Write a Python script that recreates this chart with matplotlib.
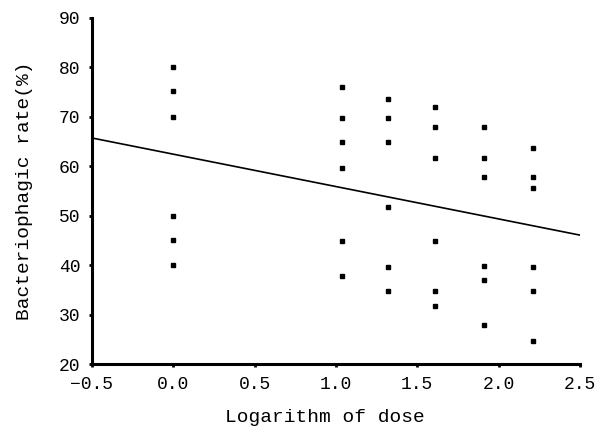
import numpy as np
import matplotlib
matplotlib.use("Agg")
import matplotlib.pyplot as plt

# ---------------- DATA ----------------
log_dose = [0.0, 1.04, 1.32, 1.61, 1.91, 2.21]
rates = [
    [80.0, 75.2, 70.0, 50.0, 45.1, 40.0],
    [76.0, 69.8, 64.9, 59.7, 44.9, 37.8],
    [73.6, 69.8, 64.9, 51.7, 39.7, 34.8],
    [71.9, 68.0, 61.7, 44.8, 34.8, 31.7],
    [68.0, 61.7, 57.8, 39.8, 36.9, 27.9],
    [63.6, 57.8, 55.7, 39.7, 34.8, 24.7],
]
fit_intercept = 62.45
fit_slope = -6.55

xticks = [-0.5, 0.0, 0.5, 1.0, 1.5, 2.0, 2.5]
yticks = [20, 30, 40, 50, 60, 70, 80, 90]

# ---------------- PLOT ----------------
plt.rcParams["font.family"] = ["Liberation Mono", "DejaVu Sans Mono"]

fig = plt.figure(figsize=(6.06, 4.40), dpi=100)
ax = fig.add_axes([0.1518, 0.1727, 0.8052, 0.7864])

for x, ys in zip(log_dose, rates):
    ax.plot([x] * len(ys), ys, "s", color="black", markersize=3.4,
            linestyle="none")

line_x = np.array([xticks[0], xticks[-1]])
ax.plot(line_x, fit_intercept + fit_slope * line_x, color="black",
        linewidth=1.2)

ax.set_xlim(-0.5, 2.5)
ax.set_ylim(20, 90)
ax.set_xticks(xticks)
ax.set_yticks(yticks)
ax.set_xticklabels([f"{t:.1f}".replace("-", "\u2212") for t in xticks])
ax.set_yticklabels([str(t) for t in yticks])

for side in ("top", "right"):
    ax.spines[side].set_visible(False)
for side in ("left", "bottom"):
    ax.spines[side].set_linewidth(2.2)

ax.tick_params(direction="out", length=2.5, width=2, labelsize=13, pad=6)
ax.set_xlabel("Logarithm of dose", fontsize=14)
ax.set_ylabel("Bacteriophagic rate(%)", fontsize=14)
# label centres as placed in the original
ax.xaxis.set_label_coords(0.477, -0.13)
ax.yaxis.set_label_coords(-0.12, 0.5)

fig.savefig("out.png", dpi=100)
